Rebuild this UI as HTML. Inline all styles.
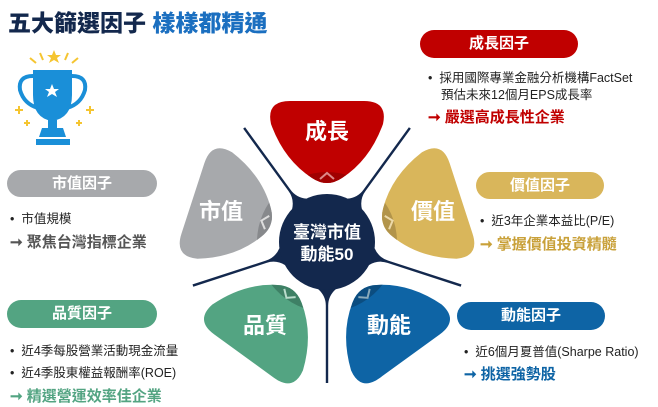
<!DOCTYPE html>
<html><head><meta charset="utf-8"><style>
*{margin:0;padding:0;box-sizing:border-box}
body{width:658px;height:407px;background:#fff;position:relative;overflow:hidden;font-family:"Liberation Sans","Noto Sans CJK TC",sans-serif}
.a{position:absolute;white-space:nowrap}
.pill{position:absolute;border-radius:15px;color:#fff;font-weight:bold;font-size:15px;text-align:center}
.t{font-size:12.5px;color:#222}
.ar{font-size:15px;font-weight:bold}
</style></head><body>
<div class="a" style="left:8px;top:4px;font-size:23px;font-weight:900;color:#13284d">五大篩選因子 <span style="color:#1b6fc0">樣樣都精通</span></div>

<svg class="a" style="left:0;top:0" width="658" height="407">
<!-- trophy -->
<g fill="#1a8fd8">
<path d="M33 70 H72 V95 Q72 118 52 121 Q33 118 33 95 Z"/>
<path d="M33 76 Q18 76 20 90 Q24 104 38 108" fill="none" stroke="#1a8fd8" stroke-width="4"/>
<path d="M72 76 Q87 76 85 90 Q81 104 67 108" fill="none" stroke="#1a8fd8" stroke-width="4"/>
<rect x="48" y="120" width="9" height="8"/><path d="M42 128 H63 L66 137 H39 Z"/>
<rect x="36" y="139" width="34" height="6"/>
</g>
<polygon points="52,84 54,89 59,89 55,92 57,97 52,94 47,97 49,92 45,89 50,89" fill="#fff"/>
<polygon points="54,50 56,55 61,55 57,58 59,63 54,60 49,63 51,58 47,55 52,55" fill="#f5c531"/>
<g stroke="#f5c531" stroke-width="2"><line x1="30" y1="58" x2="36" y2="63"/><line x1="78" y1="58" x2="72" y2="63"/><line x1="40" y1="53" x2="43" y2="60"/><line x1="68" y1="53" x2="65" y2="60"/>
<line x1="15" y1="110" x2="23" y2="110"/><line x1="19" y1="106" x2="19" y2="114"/><line x1="86" y1="110" x2="94" y2="110"/><line x1="90" y1="106" x2="90" y2="114"/>
<line x1="24" y1="123" x2="30" y2="123"/><line x1="27" y1="120" x2="27" y2="126"/><line x1="76" y1="123" x2="82" y2="123"/><line x1="79" y1="120" x2="79" y2="126"/></g>

<!-- spokes -->
<defs><g id="sp"><path d="M318 289 Q326 296 325.8 306 L325.8 383 L328.2 383 L328.2 306 Q328 296 336 289 Z" fill="#13284d"/></g></defs>
<use href="#sp"/>
<use href="#sp" transform="rotate(72 327 242)"/>
<use href="#sp" transform="rotate(144 327 242)"/>
<use href="#sp" transform="rotate(216 327 242)"/>
<use href="#sp" transform="rotate(288 327 242)"/>
<!-- petals -->
<defs><path id="pt" d="M290 101 Q266 101 271 124 Q284 160 312 178 Q327 188 342 178 Q370 160 383 124 Q388 101 364 101 Z"/>
<clipPath id="cp"><use href="#pt"/></clipPath></defs>
<g><use href="#pt" fill="#c00000"/><circle cx="327" cy="242" r="70" fill="#a00000" clip-path="url(#cp)"/><path d="M320 179 L327 173 L334 179" stroke="#d88" stroke-width="2" fill="none"/></g>
<g transform="rotate(72 327 242)"><use href="#pt" fill="#d9b65b"/><circle cx="327" cy="242" r="70" fill="#b2944a" clip-path="url(#cp)"/><path d="M320 179 L327 173 L334 179" stroke="#ecd9a8" stroke-width="2" fill="none"/></g>
<g transform="rotate(144 327 242)"><use href="#pt" fill="#0e64a5"/><circle cx="327" cy="242" r="70" fill="#0b4d80" clip-path="url(#cp)"/><path d="M320 179 L327 173 L334 179" stroke="#8ab" stroke-width="2" fill="none"/></g>
<g transform="rotate(216 327 242)"><use href="#pt" fill="#53a482"/><circle cx="327" cy="242" r="70" fill="#3e8065" clip-path="url(#cp)"/><path d="M320 179 L327 173 L334 179" stroke="#b9dccc" stroke-width="2" fill="none"/></g>
<g transform="rotate(288 327 242)"><use href="#pt" fill="#a7a9ac"/><circle cx="327" cy="242" r="70" fill="#87898c" clip-path="url(#cp)"/><path d="M320 179 L327 173 L334 179" stroke="#ddd" stroke-width="2" fill="none"/></g>
<circle cx="327" cy="242" r="48" fill="#13284d"/>
<g font-family="Liberation Sans,Noto Sans CJK TC,sans-serif" font-weight="bold" fill="#fff" text-anchor="middle">
<text x="327" y="139" font-size="22">成長</text>
<text x="433" y="219" font-size="22">價值</text>
<text x="389" y="333" font-size="22">動能</text>
<text x="265" y="333" font-size="22">品質</text>
<text x="221" y="219" font-size="22">市值</text>
<text x="327" y="238" font-size="17">臺灣市值</text>
<text x="327" y="260" font-size="17">動能50</text>
</g>
</svg>

<div class="pill" style="left:420px;top:30px;width:158px;height:28px;line-height:28px;background:#c00000">成長因子</div>
<div class="a t" style="left:428px;top:67px">•&nbsp; 採用國際專業金融分析機構FactSet</div>
<div class="a t" style="left:441px;top:84px">預估未來12個月EPS成長率</div>
<div class="a ar" style="left:428px;top:106px;color:#c00000">➞ 嚴選高成長性企業</div>

<div class="pill" style="left:476px;top:172px;width:128px;height:27px;line-height:27px;background:#d9b65b">價值因子</div>
<div class="a t" style="left:480px;top:210px">•&nbsp; 近3年企業本益比(P/E)</div>
<div class="a ar" style="left:480px;top:233px;color:#c9a13a">➞ 掌握價值投資精髓</div>

<div class="pill" style="left:457px;top:302px;width:148px;height:28px;line-height:28px;background:#0e64a5">動能因子</div>
<div class="a t" style="left:464px;top:341px">•&nbsp; 近6個月夏普值(Sharpe Ratio)</div>
<div class="a ar" style="left:464px;top:363px;color:#0e64a5">➞ 挑選強勢股</div>

<div class="pill" style="left:7px;top:170px;width:150px;height:27px;line-height:27px;background:#a7a9ac">市值因子</div>
<div class="a t" style="left:10px;top:208px">•&nbsp; 市值規模</div>
<div class="a ar" style="left:10px;top:231px;color:#555">➞ 聚焦台灣指標企業</div>

<div class="pill" style="left:7px;top:300px;width:150px;height:28px;line-height:28px;background:#53a482">品質因子</div>
<div class="a t" style="left:10px;top:340px">•&nbsp; 近4季每股營業活動現金流量</div>
<div class="a t" style="left:10px;top:362px">•&nbsp; 近4季股東權益報酬率(ROE)</div>
<div class="a ar" style="left:10px;top:385px;color:#53a482">➞ 精選營運效率佳企業</div>
</body></html>
